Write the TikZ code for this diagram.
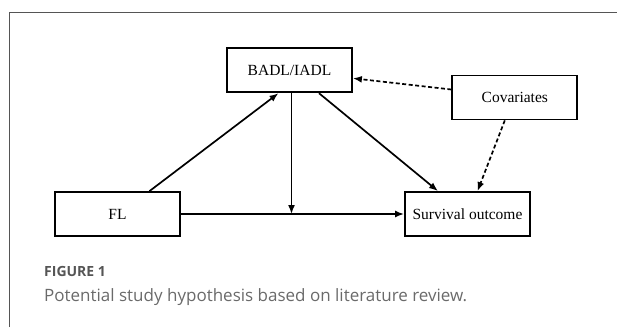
\documentclass[tikz,border=0pt]{standalone}
\usepackage{fontspec}
\setmainfont{Liberation Serif}
\newfontfamily\capfont{Open Sans}
\usetikzlibrary{arrows.meta}
\definecolor{framegray}{HTML}{555555}
\definecolor{capgray}{HTML}{6A6A6A}
\tikzset{
	varbox/.style={draw, line width=1.8pt, minimum width=125pt, minimum height=44pt, inner sep=0pt, font=\fontsize{15.5}{18}\selectfont},
	path/.style={line width=1.7pt, -{Latex[length=9pt, width=7pt]}},
	cov/.style={path, dash pattern=on 4pt off 2.5pt}
}
\begin{document}
\begin{tikzpicture}[x=1pt, y=-1pt]
		\useasboundingbox (0, 0) rectangle (617, 327);
		\draw[framegray, line width=1pt] (9.7, 327) -- (9.7, 12.3) -- (617, 12.3);
		\node[varbox] (badl) at (289.5, 70.3) {BADL/IADL};
		\node[varbox] (covariates) at (514.8, 97.5) {Covariates};
		\node[varbox] (fl) at (117.5, 214) {FL};
		\node[varbox] (survival) at (467.5, 214) {Survival outcome};
		\coordinate (meet) at ([xshift=2pt]badl.south |- fl.east);
		\draw[path] (fl.east) -- (survival.west);
		\draw[path] ([xshift=2pt]badl.south) -- (meet);
		\draw[path] ([xshift=32pt]fl.north) -- ([xshift=-11pt]badl.south);
		\draw[path] ([xshift=29.5pt]badl.south) -- ([xshift=-29.5pt]survival.north);
		\draw[cov] ([yshift=8pt]covariates.west) -- ([yshift=-8pt]badl.east);
		\draw[cov] ([xshift=-10pt]covariates.south) -- ([xshift=10pt]survival.north);
		\node[anchor=base west, inner sep=0pt, text=framegray, font=\capfont\bfseries\fontsize{14}{16}\selectfont] (fignum) at (44, 276.7) {FIGURE 1};
		\node[anchor=base west, inner sep=0pt, text=capgray, font=\capfont\fontsize{17}{20}\selectfont] (caption) at (44, 301) {Potential study hypothesis based on literature review.};
	\end{tikzpicture}
\end{document}
